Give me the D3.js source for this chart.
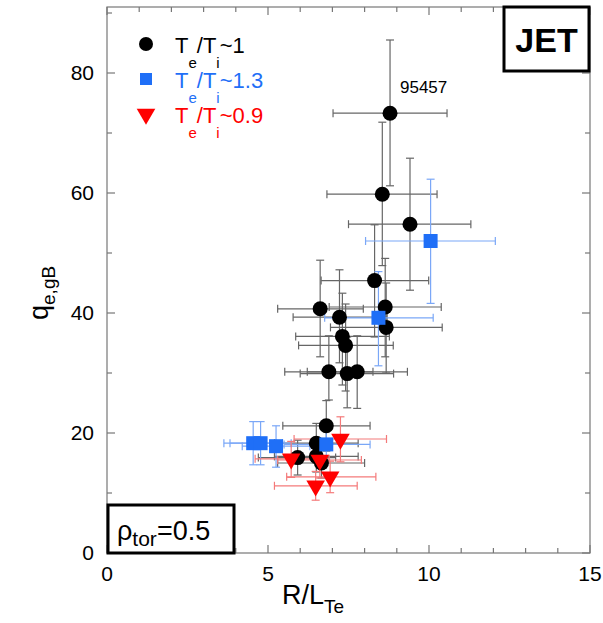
<!DOCTYPE html>
<html lang="en">
<head>
<meta charset="UTF-8">
<title>JET q_e,gB vs R/L_Te</title>
<script src="https://d3js.org/d3.v7.min.js"></script>
<style>
  body { margin: 0; background: #fff; }
  text { font-family: "Liberation Sans", Arial, sans-serif; }
</style>
</head>
<body>
<div id="chart"></div>
<script>
// [x, y, xlo, xhi, ylo, yhi]
const teti1 = [
  [8.79, 73.3, 7.02, 10.56, 61.2, 85.5],
  [8.55, 59.8, 6.83, 10.25, 47.9, 71.8],
  [9.41, 54.8, 7.50, 11.30, 43.8, 65.8],
  [8.31, 45.4, 6.65, 9.99, 36.0, 54.7],
  [6.62, 40.7, 5.30, 7.96, 32.7, 48.8],
  [8.64, 41.0, 6.90, 10.38, 32.7, 49.1],
  [7.22, 39.3, 5.78, 8.70, 31.7, 47.2],
  [8.67, 37.6, 6.94, 10.41, 30.0, 45.0],
  [7.31, 36.1, 5.86, 8.77, 28.0, 43.3],
  [7.41, 34.6, 5.95, 8.89, 27.0, 41.5],
  [6.89, 30.2, 5.52, 8.26, 25.5, 36.2],
  [7.46, 29.9, 6.00, 8.90, 24.2, 36.0],
  [7.77, 30.2, 6.22, 9.33, 24.1, 36.2],
  [6.81, 21.2, 5.46, 8.17, 17.0, 25.4],
  [6.50, 18.3, 5.20, 7.80, 15.0, 21.6],
  [5.92, 15.9, 4.70, 7.10, 13.0, 18.8],
  [6.50, 16.1, 5.20, 7.80, 13.5, 18.8],
  [6.66, 15.0, 5.30, 8.00, 12.5, 17.5]
];
const teti13 = [
  [10.05, 52.0, 8.03, 12.06, 41.6, 62.3],
  [8.43, 39.2, 6.76, 10.13, 31.2, 46.9],
  [6.81, 18.1, 5.50, 8.17, 15.5, 20.7],
  [4.54, 18.3, 3.63, 5.45, 14.7, 21.9],
  [4.77, 18.3, 3.82, 5.72, 14.7, 21.9],
  [5.25, 17.8, 4.20, 6.30, 14.3, 21.2]
];
const teti09 = [
  [7.25, 19.0, 5.81, 8.68, 15.2, 22.7],
  [5.72, 15.7, 4.60, 6.90, 12.6, 18.6],
  [6.61, 15.5, 5.30, 7.90, 12.5, 18.5],
  [6.93, 12.7, 5.58, 8.35, 10.05, 15.3],
  [6.48, 11.2, 5.20, 7.77, 8.8, 13.6]
];
const xTicks = [0, 5, 10, 15];
const yTicks = [0, 20, 40, 60, 80];

const W = 603, H = 623;
const mLeft = 107, mRight = 590, mTop = 7, mBottom = 553;

const svg = d3.select('#chart').append('svg')
  .attr('width', W).attr('height', H);

const x = d3.scaleLinear().domain([0, 15]).range([mLeft, mRight]);
const y = d3.scaleLinear().domain([0, 91]).range([mBottom, mTop]);

// frame
svg.append('rect')
  .attr('x', mLeft).attr('y', mTop)
  .attr('width', mRight - mLeft).attr('height', mBottom - mTop)
  .attr('fill', 'none').attr('stroke', '#777').attr('stroke-width', 1.2);

// ticks (inward, all four sides)
const g = svg.append('g').attr('stroke', '#777').attr('stroke-width', 1.2);
d3.range(0, 16).forEach(v => {
  const len = v % 5 === 0 ? 8 : 5;
  g.append('line').attr('x1', x(v)).attr('x2', x(v)).attr('y1', mBottom).attr('y2', mBottom - len);
  g.append('line').attr('x1', x(v)).attr('x2', x(v)).attr('y1', mTop).attr('y2', mTop + len);
});
d3.range(0, 91, 10).forEach(v => {
  const len = v % 20 === 0 ? 8 : 5;
  g.append('line').attr('y1', y(v)).attr('y2', y(v)).attr('x1', mLeft).attr('x2', mLeft + len);
  g.append('line').attr('y1', y(v)).attr('y2', y(v)).attr('x1', mRight).attr('x2', mRight - len);
});

svg.selectAll('.xtl').data(xTicks).enter().append('text')
  .attr('x', d => x(d)).attr('y', mBottom + 28)
  .attr('text-anchor', 'middle').attr('font-size', 21).text(d => d);
svg.selectAll('.ytl').data(yTicks).enter().append('text')
  .attr('x', mLeft - 13).attr('y', d => y(d) + 7)
  .attr('text-anchor', 'end').attr('font-size', 21).text(d => d);

// axis titles
const xt = svg.append('text').attr('x', 282).attr('y', 604).attr('font-size', 27);
xt.append('tspan').text('R/L');
xt.append('tspan').attr('font-size', 19).attr('dy', 9).text('Te');

const yt = svg.append('text').attr('transform', 'translate(48,320) rotate(-90)').attr('font-size', 27);
yt.append('tspan').text('q');
yt.append('tspan').attr('font-size', 19).attr('dy', 7).text('e,gB');

// error bars
function errorBars(data, color) {
  const eg = svg.append('g').attr('stroke', color).attr('stroke-width', 1.2).attr('fill', 'none');
  data.forEach(d => {
    const cx = x(d[0]), cy = y(d[1]);
    eg.append('line').attr('x1', x(d[2])).attr('x2', x(d[3])).attr('y1', cy).attr('y2', cy);
    eg.append('line').attr('x1', cx).attr('x2', cx).attr('y1', y(d[4])).attr('y2', y(d[5]));
    [d[2], d[3]].forEach(v => eg.append('line').attr('x1', x(v)).attr('x2', x(v)).attr('y1', cy - 4).attr('y2', cy + 4));
    [d[4], d[5]].forEach(v => eg.append('line').attr('y1', y(v)).attr('y2', y(v)).attr('x1', cx - 4).attr('x2', cx + 4));
  });
}
errorBars(teti1, '#666');
errorBars(teti13, '#7aa7f7');
errorBars(teti09, '#f47a7a');

const blue = '#1f6ff7', red = '#ff0000';
const tri = d3.symbol().type(d3.symbolTriangle).size(150);

svg.selectAll('.c1').data(teti1).enter().append('circle')
  .attr('cx', d => x(d[0])).attr('cy', d => y(d[1])).attr('r', 7.5).attr('fill', '#000');
svg.selectAll('.s13').data(teti13).enter().append('rect')
  .attr('x', d => x(d[0]) - 7).attr('y', d => y(d[1]) - 7)
  .attr('width', 14).attr('height', 14).attr('fill', blue);
svg.selectAll('.t09').data(teti09).enter().append('path')
  .attr('d', tri)
  .attr('transform', d => `translate(${x(d[0])},${y(d[1])}) rotate(180)`)
  .attr('fill', red);

svg.append('text').attr('x', 400).attr('y', 93).attr('font-size', 17).text('95457');

// legend
const legend = [
  { label: '~1', color: '#000', shape: 'circle' },
  { label: '~1.3', color: blue, shape: 'square' },
  { label: '~0.9', color: red, shape: 'tri' }
];
legend.forEach((l, i) => {
  const cy = 44 + i * 35;
  if (l.shape === 'circle') {
    svg.append('circle').attr('cx', 146).attr('cy', cy).attr('r', 7).attr('fill', l.color);
  } else if (l.shape === 'square') {
    svg.append('rect').attr('x', 140).attr('y', cy - 6).attr('width', 12).attr('height', 12).attr('fill', l.color);
  } else {
    svg.append('path').attr('d', tri).attr('transform', `translate(146,${cy}) rotate(180)`).attr('fill', l.color);
  }
  const t = svg.append('text').attr('x', 175).attr('y', cy + 9).attr('font-size', 22).attr('fill', l.color);
  t.append('tspan').text('T');
  t.append('tspan').attr('font-size', 15).attr('dy', 15).text('e');
  t.append('tspan').attr('dy', -15).text('/T');
  t.append('tspan').attr('font-size', 15).attr('dy', 15).text('i');
  t.append('tspan').attr('dy', -15).text(l.label);
});

// JET box
svg.append('rect').attr('x', 504).attr('y', 7).attr('width', 85).attr('height', 64)
  .attr('fill', '#fff').attr('stroke', '#000').attr('stroke-width', 3);
svg.append('text').attr('x', 546.5).attr('y', 52).attr('text-anchor', 'middle')
  .attr('font-size', 34).attr('font-weight', 'bold').attr('font-family', 'DejaVu Sans, sans-serif').text('JET');

// rho box
svg.append('rect').attr('x', 108).attr('y', 505).attr('width', 126).attr('height', 48)
  .attr('fill', '#fff').attr('stroke', '#000').attr('stroke-width', 3);
const rt = svg.append('text').attr('x', 117).attr('y', 540).attr('font-size', 27);
rt.append('tspan').text('ρ');
rt.append('tspan').attr('font-size', 21).attr('dy', 6).text('tor');
rt.append('tspan').attr('dy', -6).text('=0.5');
</script>
</body>
</html>
